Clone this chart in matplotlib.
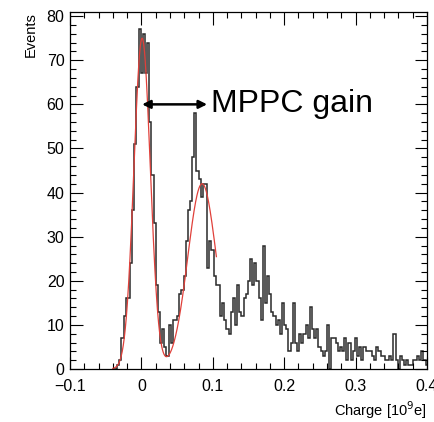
"""ROOT-style charge histogram with two-gaussian fit and MPPC gain arrow."""
import matplotlib
matplotlib.use("Agg")
import matplotlib.pyplot as plt
from matplotlib.ticker import MultipleLocator, FuncFormatter
import numpy as np

INK = "#2a2a2a"
FIT = "#e0403a"

# histogram: 0.003 wide bins starting at -0.04 (units of 10^9 e)
BIN_START = -0.04
BIN_WIDTH = 0.003
counts = [
    0, 0, 1, 2, 7, 12, 16, 16, 24, 36,           # k0-9
    51, 64, 77, 67, 76, 67, 74, 56, 44, 33,      # k10-19
    19, 13, 6, 9, 5, 3, 10, 6, 11, 11,           # k20-29
    12, 17, 18, 21, 29, 36, 38, 48, 58, 45,      # k30-39
    43, 39, 42, 42, 23, 29, 27, 21, 19, 19,      # k40-49
    12, 15, 11, 9, 8, 13, 16, 10, 19, 13,        # k50-59
    12, 16, 17, 20, 25, 19, 24, 20, 16, 11,      # k60-69
    28, 15, 21, 17, 13, 12, 10, 11, 8, 15,       # k70-79
    10, 9, 4, 6, 15, 6, 4, 8, 6, 8,              # k80-89
    10, 7, 14, 9, 7, 9, 5, 4, 3, 4,              # k90-99
    10, 0, 7, 7, 6, 4, 5, 4, 7, 2,               # k100-109
    6, 2, 4, 7, 3, 5, 2, 5, 4, 4,                # k110-119
    4, 3, 2, 5, 4, 3, 3, 2, 2, 3,                # k120-129
    2, 8, 2, 0, 3, 2, 1, 2, 1, 1,                # k130-139
    2, 2, 3, 2, 4, 2, 1,                         # k140-146
]

# two-gaussian fit (pedestal + 1 p.e.)
fit_amp = [75.0, 42.0]
fit_mean = [0.001, 0.085]
fit_sigma = [0.0115, 0.020]
fit_range = (-0.04, 0.105)

# gain arrow between the peaks
arrow_x = (0.001, 0.092)
arrow_y = 60
label = "MPPC gain"

edges = BIN_START + BIN_WIDTH * np.arange(len(counts) + 1)
xs = np.linspace(fit_range[0], fit_range[1], 400)
ys = sum(a * np.exp(-0.5 * ((xs - m) / s) ** 2)
         for a, m, s in zip(fit_amp, fit_mean, fit_sigma))

plt.rcParams["font.family"] = ["Liberation Sans", "DejaVu Sans"]
fig = plt.figure(figsize=(4.34, 4.22), dpi=100)
ax = fig.add_axes([0.1613, 0.1256, 0.8226, 0.845])

ax.stairs(counts, edges, color=INK, linewidth=1.1)
ax.plot(xs, ys, color=FIT, linewidth=0.9)

ax.annotate("", xy=(arrow_x[0], arrow_y), xytext=(arrow_x[1], arrow_y),
            arrowprops=dict(arrowstyle="<|-|>", color="black", lw=1.8,
                            mutation_scale=12, shrinkA=0, shrinkB=0))
ax.text(arrow_x[1] + 0.005, arrow_y, label, fontsize=23, va="center", ha="left", color="black")

ax.set_xlim(-0.1, 0.4)
ax.set_ylim(0, 80.85)
ax.xaxis.set_major_locator(MultipleLocator(0.1))
ax.xaxis.set_minor_locator(MultipleLocator(0.02))
ax.yaxis.set_major_locator(MultipleLocator(10))
ax.yaxis.set_minor_locator(MultipleLocator(2))
ax.xaxis.set_major_formatter(FuncFormatter(lambda v, p: f"{v:.1f}".replace("-", "\u2212") if abs(v) > 1e-9 else "0"))
ax.tick_params(which="both", direction="in", top=True, right=True, colors="black", labelsize=11.5, width=0.8)
ax.tick_params(which="major", length=9)
ax.tick_params(which="minor", length=4.5)
ax.tick_params(axis="x", which="major", pad=7)
ax.tick_params(axis="y", which="major", pad=4)
for s in ax.spines.values():
    s.set_linewidth(0.9)

ax.set_xlabel("Charge [10$^9$e]", fontsize=10.5, loc="right", labelpad=4)
ax.set_ylabel("Events", fontsize=10.5, loc="top", labelpad=6)

fig.savefig("out.png", dpi=100)
